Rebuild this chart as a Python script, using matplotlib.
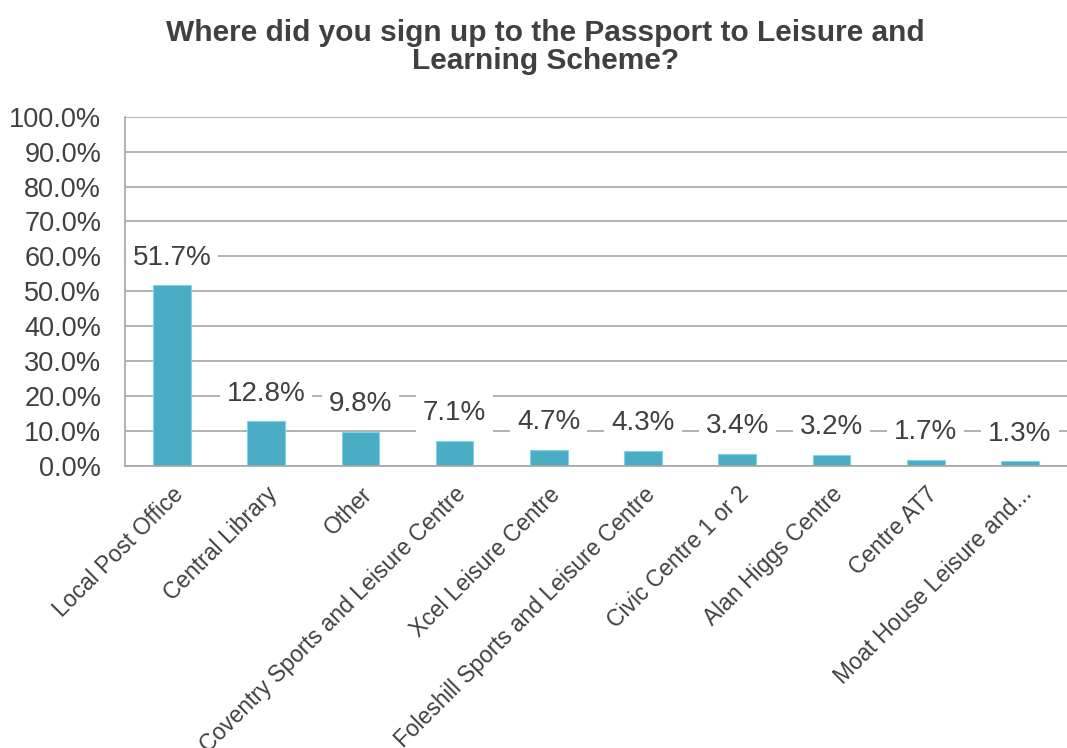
import matplotlib.pyplot as plt
from matplotlib.ticker import FuncFormatter

plt.rcParams['font.family'] = ['Liberation Sans', 'DejaVu Sans']

title = "Where did you sign up to the Passport to Leisure and\nLearning Scheme?"
places = ["Local Post Office", "Central Library", "Other",
          "Coventry Sports and Leisure Centre", "Xcel Leisure Centre",
          "Foleshill Sports and Leisure Centre", "Civic Centre 1 or 2",
          "Alan Higgs Centre", "Centre AT7", "Moat House Leisure and..."]
share = [51.7, 12.8, 9.8, 7.1, 4.7, 4.3, 3.4, 3.2, 1.7, 1.3]
yticks = [0, 10, 20, 30, 40, 50, 60, 70, 80, 90, 100]

text_col = '#404040'
grid_col = '#a6a6a6'
bar_col = '#4bacc6'

fig = plt.figure(figsize=(10.67, 7.48), dpi=100)
ax = fig.add_axes([0.117, 0.377, 0.883, 0.467])

x = range(len(places))
ax.bar(x, share, width=0.4, color=bar_col, edgecolor='#7fd3e6', linewidth=0.8, zorder=2)

# data labels sit a bit above each bar on a white box that cuts the gridline
for i, v in zip(x, share):
    ax.annotate(f"{v:.1f}%", (i, v), xytext=(0, 20), textcoords='offset points',
                ha='center', va='center', fontsize=20, color=text_col, zorder=4,
                bbox=dict(boxstyle='square,pad=0.25', fc='white', ec='none'))

ax.set_ylim(0, 100)
ax.set_xlim(-0.5, len(places) - 0.5)
ax.set_yticks(yticks)
ax.yaxis.set_major_formatter(FuncFormatter(lambda v, p: f"{v:.1f}%"))
ax.grid(axis='y', color=grid_col, linewidth=1.2, zorder=0)
ax.set_axisbelow(True)

ax.set_xticks(list(x))
ax.set_xticklabels(places, rotation=45, ha='right', rotation_mode='anchor',
                   fontsize=16.5, color=text_col)
ax.tick_params(axis='y', length=0, pad=17, labelsize=19.5, labelcolor=text_col)
ax.tick_params(axis='x', length=0, pad=12)

for s in ['top', 'right']:
    ax.spines[s].set_visible(False)
for s in ['left', 'bottom']:
    ax.spines[s].set_color(grid_col)
    ax.spines[s].set_linewidth(1.2)

fig.text(0.511, 0.975, title, ha='center', va='top', fontsize=21.5,
         fontweight='bold', color=text_col, linespacing=1.0)

fig.savefig('out.png', dpi=100)
